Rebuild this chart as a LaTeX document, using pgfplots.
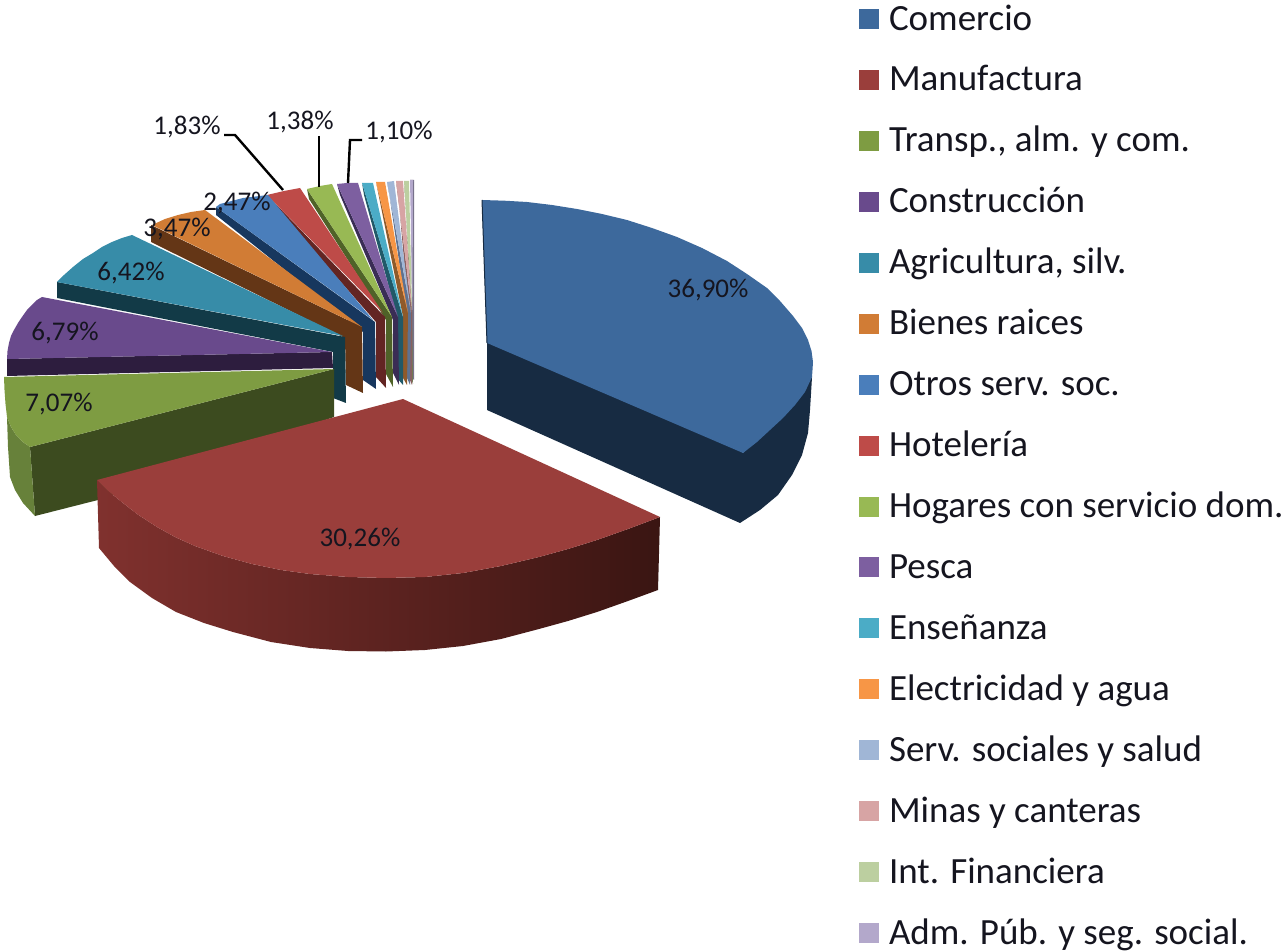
\documentclass[border=0pt]{standalone}
\usepackage{pgfplots}
\pgfplotsset{compat=1.18}
\usepackage{fontspec}
\setmainfont{Carlito}
\definecolor{cCom}{HTML}{3D699C}\definecolor{sCom}{HTML}{172B42}
\definecolor{cMan}{HTML}{9A3E3B}
\definecolor{gManA}{HTML}{80312E}\definecolor{gManB}{HTML}{692825}\definecolor{gManC}{HTML}{3A1512}
\definecolor{cTra}{HTML}{7E9C42}\definecolor{sTra}{HTML}{3C4B1F}\definecolor{oTra}{HTML}{67813A}
\definecolor{cCon}{HTML}{694A8C}\definecolor{sCon}{HTML}{2D1D3E}
\definecolor{cAgr}{HTML}{378CA8}\definecolor{sAgr}{HTML}{123A47}
\definecolor{cBie}{HTML}{D17C35}\definecolor{sBie}{HTML}{643616}
\definecolor{cOtr}{HTML}{4A7EBB}\definecolor{sOtr}{HTML}{17375E}
\definecolor{cHot}{HTML}{BE4B48}\definecolor{sHot}{HTML}{632523}
\definecolor{cHog}{HTML}{98B954}\definecolor{sHog}{HTML}{4F6228}
\definecolor{cPes}{HTML}{7D5FA0}\definecolor{sPes}{HTML}{3A2D55}
\definecolor{cEns}{HTML}{4BACC6}\definecolor{sEns}{HTML}{215968}
\definecolor{cEle}{HTML}{F79646}\definecolor{sEle}{HTML}{8F5A2A}
\definecolor{cSer}{HTML}{A0B6D6}\definecolor{sSer}{HTML}{5E7190}
\definecolor{cMin}{HTML}{D7A4A4}\definecolor{sMin}{HTML}{8A6060}
\definecolor{cInt}{HTML}{BCCFA0}\definecolor{sInt}{HTML}{6E7D50}
\definecolor{cAdm}{HTML}{B3A8CB}\definecolor{sAdm}{HTML}{77728A}
\definecolor{txt}{HTML}{15151F}
\begin{document}
\begin{tikzpicture}[x=1pt,y=1pt]
\path[use as bounding box] (0,0) rectangle (644,475.5);
\begin{axis}[
  at={(0,0)},anchor=south west,
  scale only axis,width=644pt,height=475.5pt,
  xmin=0,xmax=1288,ymin=0,ymax=951,y dir=reverse,
  hide axis,clip=false,
  reverse legend,
  legend image code/.code={\path[#1,draw=none] (0pt,-3.5pt) rectangle (10pt,6.5pt);\path (15pt,0pt);},
  legend cell align=left,
  legend style={at={(axis cs:859,6)},anchor=north west,draw=none,fill=none,
    inner sep=0pt,outer sep=0pt,row sep=14.47pt,column sep=0pt,
    nodes={inner sep=0pt,outer sep=0pt,text height=12pt,text depth=4pt,text=txt,font=\fontsize{18.5}{21}\selectfont}},
  legend columns=1,
]
% Adm
\addplot[forget plot,fill=sAdm,draw=none] coordinates {(410,180)(411,190)(412,317)(412,378)(414,380)(414,180)};
\addplot[fill=cAdm,draw=none] coordinates {(410,180)(413,180)(412.5,310)};
\addlegendentry{Adm. Púb. y seg. social.}
% Int
\addplot[forget plot,fill=sInt,draw=none] coordinates {(404,181)(405,192)(411,317)(411,378)(413,384)(412,310)};
\addplot[fill=cInt,draw=none] coordinates {(404,181)(409,181)(412,310)};
\addlegendentry{Int. Financiera}
% Minas
\addplot[forget plot,fill=sMin,draw=none] coordinates {(396,181)(398,192)(409,317)(409,378)(412,385)(412,312)};
\addplot[fill=cMin,draw=none] coordinates {(396,181)(403,181)(412,312)};
\addlegendentry{Minas y canteras}
% Serv
\addplot[forget plot,fill=sSer,draw=none] coordinates {(387,182)(389,192)(407,317)(407,378)(410,385)(411,313)};
\addplot[fill=cSer,draw=none] coordinates {(387,182)(394,181)(411,313)};
\addlegendentry{Serv. sociales y salud}
% Elec
\addplot[forget plot,fill=sEle,draw=none] coordinates {(376,182)(378,192)(403,317)(403,378)(407,385)(408,313)};
\addplot[fill=cEle,draw=none] coordinates {(376,182)(385,182)(408,313)};
\addlegendentry{Electricidad y agua}
% Ens
\addplot[forget plot,fill=sEns,draw=none] coordinates {(362,183)(364,195)(397,317)(397,378)(403,385)(403,317)};
\addplot[fill=cEns,draw=none] coordinates {(362,183)(373,183)(403,317)};
\addlegendentry{Enseñanza}
% Pesca
\addplot[forget plot,fill=sPes,draw=none] coordinates {(337,184)(340,195)(393,320)(393,373)(399,385)(398,317)};
\addplot[fill=cPes,draw=none] coordinates {(337,184)(347,183)(358,183)(398,317)};
\addlegendentry{Pesca}
% Hogares
\addplot[forget plot,fill=sHog,draw=none] coordinates {(307,189)(309,199)(386,320)(386,374)(393,387)(392,317)};
\addplot[fill=cHog,draw=none] coordinates {(307,189)(320,186)(332,184)(392,317)};
\addlegendentry{Hogares con servicio dom.}
% Hoteleria
\addplot[forget plot,fill=sHot,draw=none] coordinates {(267,195)(274,206)(376,322)(376,377)(386,388)(385,317)};
\addplot[fill=cHot,draw=none] coordinates {(267,195)(284,191)(300,188)(383,313)};
\addlegendentry{Hotelería}
% Otros
\addplot[forget plot,fill=sOtr,draw=none] coordinates {(216,207)(216,215)(363,332)(363,380)(376,389)(375,322)};
\addplot[fill=cOtr,draw=none] coordinates {(216,207)(220,204)(243,198)(268,195)(373,320)};
\addlegendentry{Otros serv. soc.}
% Bienes
\addplot[forget plot,fill=sBie,draw=none] coordinates {(151,225)(151,242)(345,338)(346,385)(363,393)(362,327)};
\addplot[fill=cBie,draw=none] coordinates {(152,225)(165,219)(178,215)(191,212)(205,210)(362,327)};
\addlegendentry{Bienes raices}
% Agricultura
\addplot[forget plot,fill=sAgr,draw=none] coordinates {(57,282)(57,298)(333,352)(333,398)(346,403)(345,337)};
\addplot[fill=cAgr,draw=none] coordinates {(57,282)(64,275)(73,267)(83,259)(93,253)(102,247)(112,242)(122,238)(132,235)(343,336)};
\addlegendentry{Agricultura, silv.}
% Construccion
\addplot[forget plot,fill=sCon,draw=none] coordinates {(7,359)(7,376)(333,368)(332,352)};
\addplot[fill=cCon,draw=none] coordinates {(7,359)(7.5,351)(9,343)(11,336)(14,330)(18,323)(22,317)(27,310)(32,305)(37,300)(42,297)(332,352)};
\addlegendentry{Construcción}
% Transp
\addplot[forget plot,fill=sTra,draw=none] coordinates {(30,447)(334,369)(334,417)(98,500)(35,516)};
\addplot[forget plot,fill=oTra,draw=none] coordinates {(7,417)(7.5,432)(8,447)(9,462)(10,477)(15,490)(23,503)(35,516)(30,447)(23,442)(16,435)(11,427)};
\addplot[fill=cTra,draw=none] coordinates {(4,377)(4.5,390)(5.5,404)(7,417)(11,427)(16,435)(23,442)(30,447)(334,369)};
\addlegendentry{Transp., alm. y com.}
% Manufactura
\addplot[forget plot,draw=none,left color=gManA,middle color=gManB,right color=gManC]
  coordinates {(97,480)(99,548)(114,566)(130,582)(152,598)(176,612)(204,623)(233,632)(271,642)(310,648)(348,651)(386,651.5)(425,650)(463,646)(501,639)(539,629)(568,621)(597,612)(628,601)(658,590)(660,517)(628,529)(597,540)(568,549)(539,557)(501,566)(463,573)(425,577)(386,578)(348,577)(310,574)(281,570)(252,564)(223,556)(195,546)(176,537.5)(157,527)(137,514)(118,499)(107,490)};
\addplot[fill=cMan,draw=none] coordinates {(403,399)(97,480)(107,490)(118,499)(137,514)(157,527)(176,537.5)(195,546)(223,556)(252,564)(281,570)(310,574)(348,577)(386,578)(425,577)(463,573)(501,566)(539,557)(568,549)(597,540)(628,529)(660,517)};
\addlegendentry{Manufactura}
% Comercio
\addplot[forget plot,fill=sCom,draw=none] coordinates {(482,200)(487,343)(487,410)(740,523)(760,510)(778,495)(792,475)(802,455)(808,433)(810,410)(812,377)(743,453)};
\addplot[fill=cCom,draw=none] coordinates {(482,200)(504.5,200.7)(527,202)(552,205)(577,209)(602,214)(627,220)(652,228)(677,237)(702,248)(727,261)(747,274)(767,288)(780,301)(793,316)(802,328)(808,340)(811.5,351)(813,362)(812.5,370)(812,377)(805,392)(795,405)(783,418)(770,430)(757,442)(743,453)(487,343)};
\addlegendentry{Comercio}
\addplot[forget plot,sCom,line width=0.5pt] coordinates {(482,200)(487,343)};
% leaders
\addplot[forget plot,black,line width=1.2pt] coordinates {(224,135)(235,135)(283,190)};
\addplot[forget plot,black,line width=1.2pt] coordinates {(319,136)(319,187)};
\addplot[forget plot,black,line width=1.2pt] coordinates {(362,140)(350,140)(348,183)};
% labels
\begin{scope}[every node/.style={font=\fontsize{13.5}{16}\selectfont,text=txt,inner sep=0pt}]
\node at (axis cs:708,290) {36,90\%};
\node at (axis cs:360,539) {30,26\%};
\node at (axis cs:59,404) {7,07\%};
\node at (axis cs:65,333) {6,79\%};
\node at (axis cs:131,273) {6,42\%};
\node at (axis cs:177,229) {3,47\%};
\node at (axis cs:237,203) {2,47\%};
\node at (axis cs:187,127) {1,83\%};
\node at (axis cs:300,122) {1,38\%};
\node at (axis cs:399,132) {1,10\%};
\end{scope}
\end{axis}
\end{tikzpicture}
\end{document}
